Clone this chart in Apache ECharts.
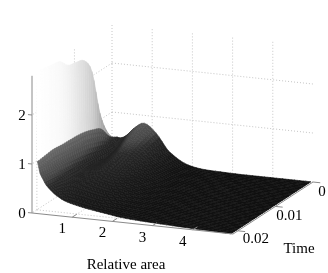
<!DOCTYPE html>
<html><head><meta charset="utf-8">
<style>html,body{margin:0;padding:0;background:#fff}#c{width:328px;height:273px}</style>
<script src="https://cdn.jsdelivr.net/npm/echarts@6/dist/echarts.min.js"></script>
</head><body><div id="c"></div>
<script>
// ---- data ----
var relativeArea = [0.1,0.13,0.2,0.35,0.55,0.8,1.1,1.4,1.8,2.2,2.7,3.2,3.8,4.4,4.95];
var times = [0,0.0021,0.0043,0.0064,0.0085,0.0107,0.0128,0.0149,0.017,0.0192,0.0213];
var h00 = [0.50,0.50,0.49,0.55,0.72,0.84,0.66,0.33,0.11,0.03,0.01,0,0,0,0];
var h01 = [0.68,0.62,0.48,0.46,0.62,0.77,0.62,0.34,0.13,0.04,0.015,0.005,0,0,0];
var h02 = [1.20,0.88,0.56,0.40,0.52,0.68,0.58,0.35,0.15,0.06,0.02,0.01,0,0,0];
var h03 = [2.15,0.97,0.62,0.40,0.45,0.58,0.52,0.35,0.17,0.07,0.03,0.015,0.005,0,0];
var h04 = [2.48,1.03,0.68,0.42,0.42,0.50,0.47,0.34,0.18,0.09,0.04,0.02,0.01,0.002,0];
var h05 = [2.55,1.06,0.72,0.46,0.42,0.45,0.42,0.32,0.19,0.10,0.05,0.025,0.012,0.004,0];
var h06 = [2.60,1.07,0.75,0.50,0.42,0.41,0.38,0.30,0.19,0.11,0.055,0.03,0.015,0.005,0];
var h07 = [2.78,1.08,0.78,0.53,0.42,0.38,0.34,0.28,0.18,0.115,0.06,0.035,0.018,0.007,0];
var h08 = [2.82,1.10,0.80,0.56,0.43,0.36,0.31,0.25,0.17,0.115,0.065,0.04,0.02,0.008,0];
var h09 = [2.85,1.08,0.81,0.58,0.44,0.34,0.28,0.23,0.16,0.11,0.07,0.045,0.025,0.01,0];
var h10 = [2.88,1.06,0.82,0.60,0.44,0.32,0.25,0.20,0.15,0.10,0.07,0.05,0.03,0.015,0];
var heights = [h00,h01,h02,h03,h04,h05,h06,h07,h08,h09,h10];
var wallShades = [0.52,0.58,0.68,0.80,0.86,0.91,0.95,0.975,0.985,0.995,1];
var areaTicks = [1,2,3,4];
var timeTicks = [0,0.01,0.02];
var timeTickLabels = ['0','0.01','0.02'];
var heightTicks = [0,1,2];

// ---- view ----
var A_MAX = 5, T_MAX = 0.0213, Z_MAX = 2.8, SUB = 4;
function proj(a,t,z){
  var u = t/T_MAX;
  return [112 + 40.2*a - 80*u, 161 + 4.2*a + 52*u - 49*z];
}
function gray(b){var v=Math.round(Math.max(0,Math.min(1,b))*255);return 'rgb('+v+','+v+','+v+')';}
function surfaceGray(z){
  var s=[[0,0.06],[0.1,0.07],[0.3,0.105],[0.55,0.16],[0.68,0.28],[0.85,0.34],[1.1,0.42],[3,1]];
  for(var k=1;k<s.length;k++){ if(z<=s[k][0]){var f=(z-s[k-1][0])/(s[k][0]-s[k-1][0]);return s[k-1][1]+f*(s[k][1]-s[k-1][1]);} }
  return 1;
}
// smooth drawing of the read mesh, in the spirit of a smooth:true line
function cr(a,b,c,d,f){return 0.5*(2*b+(c-a)*f+(2*a-5*b+4*c-d)*f*f+(3*b-a-3*c+d)*f*f*f);}
function along(get,lo,hi,s){
  var i=Math.min(Math.floor(s),hi-1),f=s-i;
  if(f===0&&s<=hi) return get(Math.min(s,hi));
  return cr(get(Math.max(i-1,lo)),get(i),get(i+1),get(Math.min(i+2,hi)),f);
}
function linAt(arr,s){var i=Math.min(Math.floor(s),arr.length-2),f=s-i;return arr[i]+f*(arr[i+1]-arr[i]);}
function colAt(c,r){return along(function(k){return heights[k][c];},0,times.length-1,r);}
function zAt(r,c){
  if(c<=1){var p=colAt(0,r),q=colAt(1,r);return p+c*(q-p);}
  return Math.max(0,along(function(k){return colAt(k,r);},1,relativeArea.length-1,c));
}
function vertex(r,c){return proj(linAt(relativeArea,c),linAt(times,r),zAt(r,c));}

var cells=[];
for(var r=0;r<times.length-1;r++) for(var sr=0;sr<SUB;sr++)
  for(var c=0;c<relativeArea.length-1;c++){
    if(c===0){cells.push([r+sr/SUB,0,r+(sr+1)/SUB,1]);continue;}
    for(var sc=0;sc<SUB;sc++) cells.push([r+sr/SUB,c+sc/SUB,r+(sr+1)/SUB,c+(sc+1)/SUB]);
  }

var segs=[];
function seg(p,q){segs.push([p[0],p[1],p[2],q[0],q[1],q[2]]);}
areaTicks.concat([0]).forEach(function(a){seg([a,0,0],[a,0,Z_MAX]);});
areaTicks.forEach(function(a){seg([a,0,0],[a,T_MAX,0]);});
timeTicks.forEach(function(t){ if(t>0) seg([0,t,0],[0,t,Z_MAX]); });
timeTicks.forEach(function(t){ if(t>0) seg([0,t,0],[A_MAX,t,0]); });
heightTicks.forEach(function(z){seg([0,0,z],[A_MAX,0,z]);seg([0,0,z],[0,T_MAX,z]);});

var axisSegs=[];
axisSegs.push([0,T_MAX,0,0,T_MAX,Z_MAX]);
axisSegs.push([0,T_MAX,0,A_MAX,T_MAX,0]);
axisSegs.push([A_MAX,T_MAX,0,A_MAX,0,0]);
heightTicks.forEach(function(z){axisSegs.push([0,T_MAX,z,-0.1,T_MAX,z]);});
areaTicks.forEach(function(a){axisSegs.push([a,T_MAX,0,a,T_MAX-0.0012,0]);});
timeTicks.forEach(function(t){axisSegs.push([A_MAX,t,0,A_MAX+0.18,t,0]);});

var labels=[];
heightTicks.forEach(function(z,i){var p=proj(0,T_MAX,z);labels.push([String(z),p[0]-10,p[1]+1]);});
areaTicks.forEach(function(a){var p=proj(a,T_MAX,0);labels.push([String(a),p[0]-10,p[1]+12]);});
timeTicks.forEach(function(t,i){var p=proj(A_MAX,t,0);labels.push([timeTickLabels[i],p[0]+[9,14,18][i],p[1]+[10,10,8][i]]);});
labels.push(['Time',299,249]);
labels.push(['Relative area',126,265]);

function line(api,s,style){
  var p=api.coord(proj(s[0],s[1],s[2])),q=api.coord(proj(s[3],s[4],s[5]));
  return {type:'line',shape:{x1:p[0],y1:p[1],x2:q[0],y2:q[1]},style:style};
}
var chart=echarts.init(document.getElementById('c'),null,{renderer:'canvas'});
chart.setOption({
  animation:false,
  backgroundColor:'#fff',
  grid:{left:0,right:0,top:0,bottom:0},
  xAxis:{type:'value',min:0,max:328,show:false},
  yAxis:{type:'value',min:0,max:273,inverse:true,show:false},
  series:[
   {type:'custom',coordinateSystem:'cartesian2d',z:1,silent:true,data:segs,
    renderItem:function(p,api){
      return line(api,segs[p.dataIndex],{stroke:'#c6c6c6',lineWidth:1,lineDash:[1,2],fill:null});
    }},
   {type:'custom',coordinateSystem:'cartesian2d',z:2,silent:true,data:cells,progressive:0,
    renderItem:function(p,api){
      var q=cells[p.dataIndex],r0=q[0],c0=q[1],r1=q[2],c1=q[3];
      var pts=[[r0,c0],[r0,c1],[r1,c1],[r1,c0]].map(function(k){return api.coord(vertex(k[0],k[1]));});
      var shade;
      if(c0===0&&c1===1){ shade=linAt(wallShades,(r0+r1)/2); }
      else { shade=surfaceGray((zAt(r0,c0)+zAt(r0,c1)+zAt(r1,c1)+zAt(r1,c0))/4); }
      var col=gray(shade);
      return {type:'polygon',shape:{points:pts},style:{fill:col,stroke:col,lineWidth:0.6}};
    }},
   {type:'custom',coordinateSystem:'cartesian2d',z:3,silent:true,data:axisSegs,
    renderItem:function(p,api){
      return line(api,axisSegs[p.dataIndex],{stroke:'#8a8a8a',lineWidth:1,fill:null});
    }},
   {type:'custom',coordinateSystem:'cartesian2d',z:4,silent:true,data:labels,
    renderItem:function(p,api){
      var l=labels[p.dataIndex],q=api.coord([l[1],l[2]]);
      return {type:'text',x:q[0],y:q[1],style:{text:l[0],fill:'#000',font:'15px "Liberation Serif"',align:'center',verticalAlign:'middle'}};
    }}
  ]
});
</script></body></html>
